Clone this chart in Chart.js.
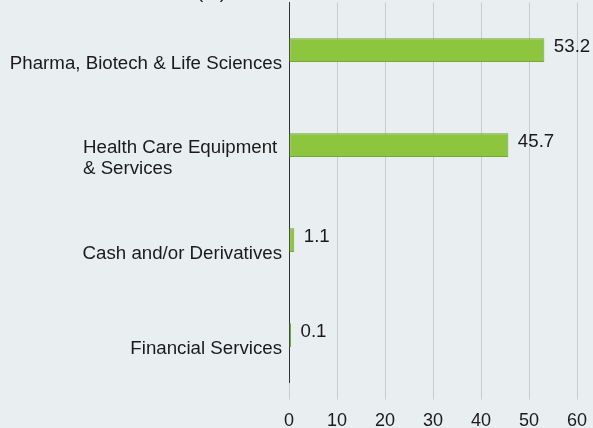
<!DOCTYPE html>
<html>
<head>
<meta charset="utf-8">
<script src="https://cdn.jsdelivr.net/npm/chart.js@4"></script>
<style>
    html, body { margin: 0; padding: 0; background: #e9eef1; }
    #wrap { position: relative; width: 593px; height: 428px; }
</style>
</head>
<body>
<div id="wrap"><canvas id="sectorChart" width="593" height="428"></canvas></div>
<script>
// Chart data
const categories = [
    ['Pharma, Biotech & Life Sciences'],
    ['Health Care Equipment', '& Services'],
    ['Cash and/or Derivatives'],
    ['Financial Services']
];
const weights = [53.2, 45.7, 1.1, 0.1];
const xTicks = [0, 10, 20, 30, 40, 50, 60];
const titleText = '(%)';

const textColor = '#1a1a1a';
const fontFamily = '"Liberation Sans", Arial, sans-serif';

// Category labels sit a little below each bar, multi-line ones are left aligned
const sideLabels = {
    id: 'sideLabels',
    afterDraw(chart) {
        const ctx = chart.ctx;
        const yScale = chart.scales.y;
        const meta = chart.getDatasetMeta(0);
        ctx.save();
        ctx.fillStyle = textColor;
        ctx.font = '18.7px ' + fontFamily;
        ctx.textBaseline = 'alphabetic';

        categories.forEach((lines, i) => {
            const y = yScale.getPixelForValue(i);
            if (lines.length > 1) {
                ctx.textAlign = 'left';
                lines.forEach((line, j) => ctx.fillText(line, 83, y + 7.5 + j * 21));
            } else {
                ctx.textAlign = 'right';
                ctx.fillText(lines[0], 282, y + 18.7);
            }
        });

        // value labels to the right of the bars
        ctx.textAlign = 'left';
        meta.data.forEach((bar, i) => {
            ctx.fillText(weights[i].toFixed(1), bar.x + 9.5, bar.y + 2.2);
        });

        // title, mostly cut off at the top edge
        ctx.fillText(titleText, 197, -2.5);
        ctx.restore();
    }
};

const ctx = document.getElementById('sectorChart').getContext('2d');
new Chart(ctx, {
    type: 'bar',
    data: {
        labels: categories,
        datasets: [{
            data: weights,
            backgroundColor: '#8cc63f',
            borderColor: '#74a73a',
            borderWidth: 1,
            borderSkipped: false,
            minBarLength: 2,
            categoryPercentage: 1,
            barPercentage: 0.25
        }]
    },
    options: {
        indexAxis: 'y',
        responsive: false,
        animation: false,
        layout: { padding: { top: 2.5, right: 16, left: 0, bottom: 0 } },
        plugins: {
            legend: { display: false },
            tooltip: { enabled: false }
        },
        scales: {
            x: {
                min: xTicks[0],
                max: xTicks[xTicks.length - 1],
                afterFit: s => {
                    s.height = 45.5;
                    s.paddingLeft = 0;
                    s.paddingRight = 0;
                },
                afterBuildTicks: s => { s.ticks = xTicks.map(v => ({ value: v })); },
                grid: { color: '#c9ccce', lineWidth: 1, tickLength: 17 },
                border: { display: false },
                ticks: {
                    color: textColor,
                    font: { family: fontFamily, size: 18 },
                    padding: 11,
                    maxRotation: 0
                }
            },
            y: {
                afterFit: s => { s.width = 289; },
                grid: { display: false },
                border: { display: true, color: '#333333', width: 1 },
                ticks: { display: false }
            }
        }
    },
    plugins: [sideLabels]
});
</script>
</body>
</html>
